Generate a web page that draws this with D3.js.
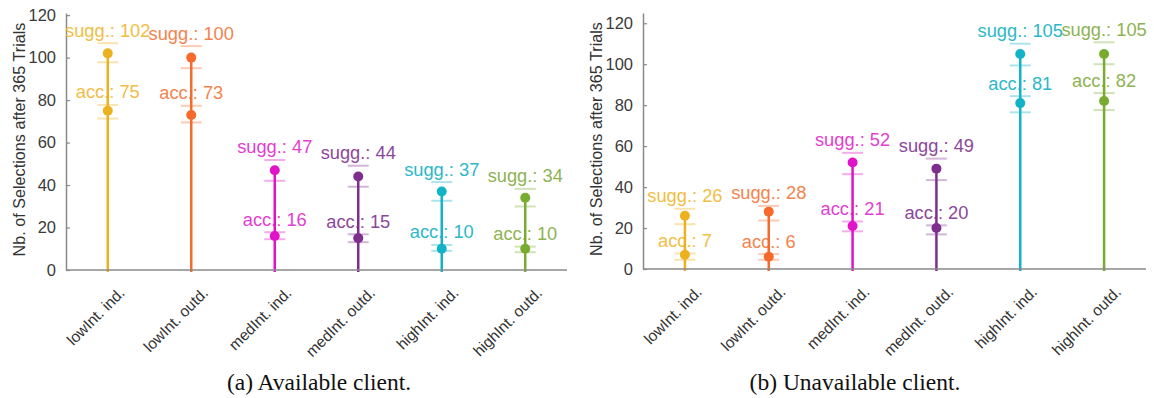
<!DOCTYPE html>
<html>
<head>
<meta charset="utf-8">
<script src="https://cdn.jsdelivr.net/npm/d3@7"></script>
<style>
  html, body { margin: 0; padding: 0; background: #fff; }
  svg { display: block; }
</style>
</head>
<body>
<svg id="fig" width="1154" height="398"></svg>
<script>
// Categories shared by both subfigures
const categories = ["lowInt. ind.", "lowInt. outd.", "medInt. ind.", "medInt. outd.", "highInt. ind.", "highInt. outd."];
const yTicks = [0, 20, 40, 60, 80, 100, 120];

// (a) Available client
const availSugg     = [102, 100, 47, 44, 37, 34];
const availSuggLo   = [97.8, 95.0, 42.0, 39.2, 32.6, 29.9];
const availSuggHi   = [106.8, 105.4, 51.8, 49.1, 41.4, 38.2];
const availAcc      = [75, 73, 16, 15, 10, 10];
const availAccLo    = [71.3, 69.5, 14.5, 13.1, 9.0, 8.4];
const availAccHi    = [77.7, 77.3, 17.8, 16.8, 11.8, 11.0];

// (b) Unavailable client
const unavailSugg   = [26, 28, 52, 49, 105, 105];
const unavailSuggLo = [21.9, 23.7, 46.3, 43.4, 99.4, 100.0];
const unavailSuggHi = [29.4, 30.8, 56.7, 53.9, 110.0, 110.7];
const unavailAcc    = [7, 6, 21, 20, 81, 82];
const unavailAccLo  = [4.5, 4.5, 18.4, 16.9, 76.5, 77.6];
const unavailAccHi  = [7.6, 7.3, 23.2, 21.3, 84.4, 85.9];

// One colour per category: stem/marker, label text
const stemColors  = ["#EDB120", "#F76A2C", "#E013C6", "#7E2F8E", "#12B3C6", "#77AC30"];
const labelColors = ["#F0BE45", "#F5834E", "#E23FCF", "#8C479B", "#2CB8C8", "#8DB353"];

const sans = "Liberation Sans, Arial, sans-serif";
const svg = d3.select("#fig");

function drawPanel(cfg) {
  const g = svg.append("g");
  const x = d3.scalePoint().domain(categories).range([cfg.left, cfg.right]).padding(0.5);
  const y = d3.scaleLinear().domain([0, cfg.yMax]).range([cfg.bottom, cfg.top]);

  // y axis
  const yAxis = d3.axisLeft(y).tickValues(yTicks).tickSizeInner(-4).tickSizeOuter(0).tickPadding(10);
  const ya = g.append("g").attr("transform", `translate(${cfg.left},0)`).call(yAxis);
  ya.select(".domain").attr("stroke", "#8a8a8a").attr("stroke-width", 1.5);
  ya.selectAll(".tick line").attr("stroke", "#8a8a8a").attr("stroke-width", 1.2);
  ya.selectAll(".tick text").attr("fill", "#3a3a3a").style("font-family", sans).style("font-size", "16.5px");

  // y axis title
  g.append("text")
    .attr("transform", `translate(${cfg.left - 47},${(cfg.top + cfg.bottom) / 2 - 2}) rotate(-90)`)
    .attr("text-anchor", "middle").attr("dominant-baseline", "central")
    .attr("fill", "#333").style("font-family", sans).style("font-size", "16.2px")
    .text("Nb. of Selections after 365 Trials");

  // labels (drawn first so stems pass over them)
  const rows = categories.map((c, i) => ({
    c, i,
    sugg: cfg.sugg[i], suggLo: cfg.suggLo[i], suggHi: cfg.suggHi[i],
    acc: cfg.acc[i], accLo: cfg.accLo[i], accHi: cfg.accHi[i]
  }));

  g.selectAll(".lab-sugg").data(rows).join("text")
    .attr("x", d => x(d.c)).attr("y", d => y(d.suggHi) - 13)
    .attr("text-anchor", "middle").attr("dominant-baseline", "central")
    .attr("fill", d => labelColors[d.i]).style("font-family", sans).style("font-size", "18.3px")
    .text(d => `sugg.: ${d.sugg}`);
  g.selectAll(".lab-acc").data(rows).join("text")
    .attr("x", d => x(d.c)).attr("y", d => y(d.accHi) - 13)
    .attr("text-anchor", "middle").attr("dominant-baseline", "central")
    .attr("fill", d => labelColors[d.i]).style("font-family", sans).style("font-size", "18.3px")
    .text(d => `acc.: ${d.acc}`);

  // error caps
  const capW = 10.5;
  const caps = [];
  rows.forEach(d => {
    [d.suggLo, d.suggHi, d.accLo, d.accHi].forEach(v => caps.push({ c: d.c, i: d.i, v }));
  });
  g.selectAll(".cap").data(caps).join("line")
    .attr("x1", d => x(d.c) - capW).attr("x2", d => x(d.c) + capW)
    .attr("y1", d => y(d.v)).attr("y2", d => y(d.v))
    .attr("stroke", d => stemColors[d.i]).attr("stroke-opacity", 0.35).attr("stroke-width", 2);

  // stems
  g.selectAll(".stem").data(rows).join("line")
    .attr("x1", d => x(d.c)).attr("x2", d => x(d.c))
    .attr("y1", y(0) + 2).attr("y2", d => y(d.sugg))
    .attr("stroke", d => stemColors[d.i]).attr("stroke-width", 2.5);

  // x axis baseline
  g.append("line")
    .attr("x1", cfg.left).attr("x2", cfg.right).attr("y1", y(0)).attr("y2", y(0))
    .attr("stroke", "#8a8a8a").attr("stroke-width", 1.5);

  // markers
  g.selectAll(".m-sugg").data(rows).join("circle")
    .attr("cx", d => x(d.c)).attr("cy", d => y(d.sugg)).attr("r", 5)
    .attr("fill", d => stemColors[d.i]);
  g.selectAll(".m-acc").data(rows).join("circle")
    .attr("cx", d => x(d.c)).attr("cy", d => y(d.acc)).attr("r", 5)
    .attr("fill", d => stemColors[d.i]);

  // rotated category labels
  g.selectAll(".xlab").data(categories).join("text")
    .attr("transform", c => `translate(${x(c) + 14},${y(0) + 20}) rotate(-45)`)
    .attr("text-anchor", "end").attr("dominant-baseline", "central")
    .attr("fill", "#333").style("font-family", sans).style("font-size", "15.5px")
    .text(c => c);

  // caption
  svg.append("text")
    .attr("x", cfg.captionX).attr("y", 390)
    .attr("text-anchor", "middle")
    .attr("fill", "#111").style("font-family", "Liberation Serif, 'DejaVu Serif', serif").style("font-size", "23.5px")
    .text(cfg.caption);
}

drawPanel({
  left: 66, right: 567, top: 13, bottom: 270, yMax: 121,
  sugg: availSugg, suggLo: availSuggLo, suggHi: availSuggHi,
  acc: availAcc, accLo: availAccLo, accHi: availAccHi,
  caption: "(a) Available client.", captionX: 319
});
drawPanel({
  left: 643, right: 1146, top: 13, bottom: 269, yMax: 125,
  sugg: unavailSugg, suggLo: unavailSuggLo, suggHi: unavailSuggHi,
  acc: unavailAcc, accLo: unavailAccLo, accHi: unavailAccHi,
  caption: "(b) Unavailable client.", captionX: 855
});
</script>
</body>
</html>
